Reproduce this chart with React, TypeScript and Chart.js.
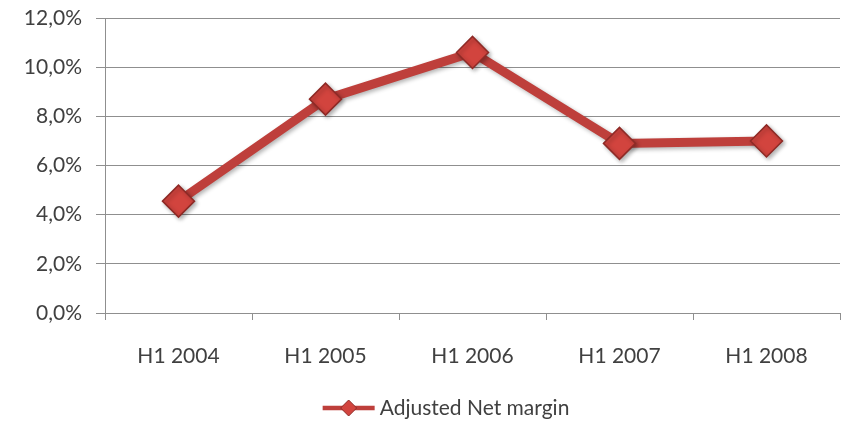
import React, { useEffect, useRef } from "react";
import { Chart, registerables } from "chart.js";

Chart.register(...registerables);

const categories = ["H1 2004", "H1 2005", "H1 2006", "H1 2007", "H1 2008"];
const adjustedNetMargin = [4.55, 8.7, 10.6, 6.9, 7.0];
const seriesLabel = "Adjusted Net margin";
const yMin = 0;
const yMax = 12;
const yStep = 2;

const LINE_COLOR = "#BE3F3B";
const POINT_FILL = "#D2443E";
const POINT_EDGE = "#8E2A26";
const GRID = "#8f8f8f";
const TEXT = "#404040";
const FONT = "Lato";

export default function App() {
  const ref = useRef<HTMLCanvasElement | null>(null);

  useEffect(() => {
    if (!ref.current) return;
    document.body.style.margin = "0";
    document.body.style.overflow = "hidden";
    const shadowPlugin = {
      id: "lineShadow",
      beforeDatasetsDraw(chart: any) {
        const ctx = chart.ctx;
        ctx.save();
        ctx.shadowColor = "rgba(0,0,0,0.3)";
        ctx.shadowBlur = 4;
        ctx.shadowOffsetX = 2;
        ctx.shadowOffsetY = 2;
      },
      afterDatasetsDraw(chart: any) {
        chart.ctx.restore();
      },
    };

    const legendPlugin = {
      id: "customLegend",
      afterDraw(chart: any) {
        const ctx = chart.ctx;
        ctx.save();
        ctx.font = `21px ${FONT}`;
        const textW = ctx.measureText(seriesLabel).width;
        const symW = 52;
        const gap = 5;
        const total = symW + gap + textW;
        const cx = 446;
        const cy = 408;
        const x0 = cx - total / 2;
        ctx.strokeStyle = LINE_COLOR;
        ctx.lineWidth = 4.5;
        ctx.beginPath();
        ctx.moveTo(x0, cy);
        ctx.lineTo(x0 + symW, cy);
        ctx.stroke();
        const dx = x0 + symW / 2;
        ctx.fillStyle = POINT_FILL;
        ctx.strokeStyle = POINT_EDGE;
        ctx.lineWidth = 1;
        ctx.beginPath();
        ctx.moveTo(dx, cy - 8);
        ctx.lineTo(dx + 8, cy);
        ctx.lineTo(dx, cy + 8);
        ctx.lineTo(dx - 8, cy);
        ctx.closePath();
        ctx.fill();
        ctx.stroke();
        ctx.fillStyle = TEXT;
        ctx.textAlign = "left";
        ctx.textBaseline = "middle";
        ctx.fillText(seriesLabel, x0 + symW + gap, cy);
        ctx.restore();
      },
    };

    const chart = new Chart(ref.current, {
      type: "line",
      data: {
        labels: categories,
        datasets: [
          {
            label: seriesLabel,
            data: adjustedNetMargin,
            borderColor: LINE_COLOR,
            backgroundColor: POINT_FILL,
            borderWidth: 9,
            pointStyle: "rectRot",
            pointRadius: 16,
            pointBackgroundColor: POINT_FILL,
            pointBorderColor: POINT_EDGE,
            pointBorderWidth: 1.5,
            tension: 0,
          },
        ],
      },
      options: {
        responsive: false,
        animation: false,
        layout: { autoPadding: false, padding: { top: 18, right: 3, left: 0, bottom: 0 } },
        plugins: {
          tooltip: { enabled: false },
          legend: { display: false },
        },
        scales: {
          x: {
            type: "category",
            offset: true,
            afterFit: (scale: any) => {
              scale.height = 108;
              scale.paddingLeft = 0;
              scale.paddingRight = 0;
            },
            grid: { offset: true, drawOnChartArea: false, tickLength: 7, color: GRID },
            border: { display: true, color: GRID },
            ticks: { color: TEXT, padding: 24, font: { family: FONT, size: 21 }, maxRotation: 0 },
          },
          y: {
            min: yMin,
            max: yMax,
            afterFit: (scale: any) => {
              scale.width = 105;
              scale.paddingTop = 0;
              scale.paddingBottom = 0;
            },
            grid: { color: GRID, lineWidth: 1, tickLength: 9 },
            border: { display: true, color: GRID },
            ticks: {
              stepSize: yStep,
              color: TEXT,
              padding: 14,
              font: { family: FONT, size: 21 },
              callback: (v: any) => Number(v).toFixed(1).replace(".", ",") + "%",
            },
          },
        },
      },
      plugins: [shadowPlugin, legendPlugin],
    });
    return () => chart.destroy();
  }, []);

  return (
    <div style={{ position: "absolute", left: 0, top: 0, width: 843, height: 421, background: "#fff", overflow: "hidden" }}>
      <canvas ref={ref} width={843} height={421} style={{ display: "block", width: 843, height: 421 }} />
    </div>
  );
}
